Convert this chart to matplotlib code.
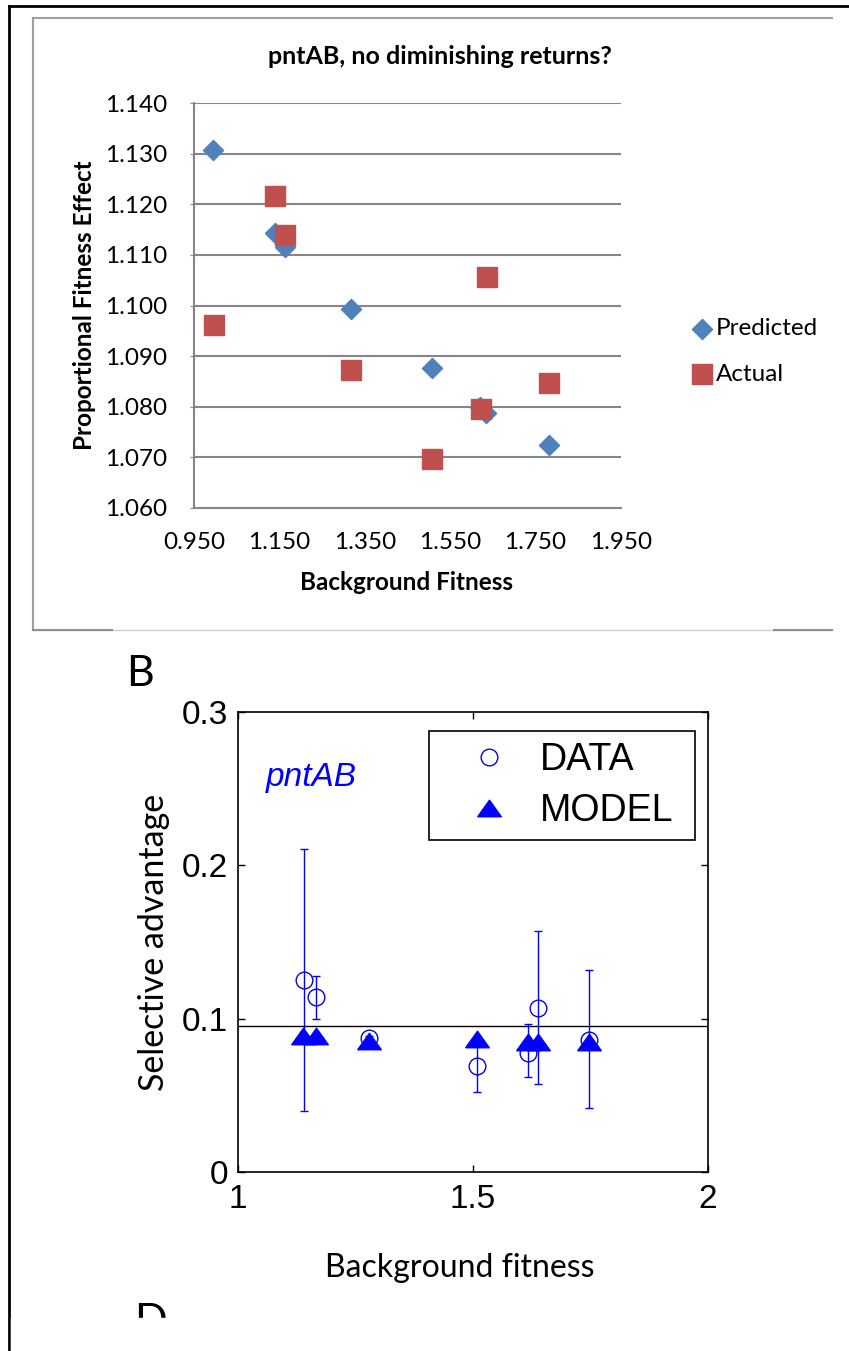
import matplotlib
matplotlib.use('Agg')
import matplotlib.pyplot as plt
from matplotlib.lines import Line2D

# Panel A data (Excel chart)
pred_x = [0.995, 1.140, 1.163, 1.317, 1.507, 1.620, 1.635, 1.782]
pred_y = [1.1307, 1.1144, 1.1116, 1.0994, 1.0876, 1.0800, 1.0787, 1.0724]
act_x = [0.997, 1.140, 1.163, 1.317, 1.507, 1.621, 1.636, 1.782]
act_y = [1.0961, 1.1217, 1.1140, 1.0872, 1.0697, 1.0796, 1.1056, 1.0847]
a_xticks = [0.950, 1.150, 1.350, 1.550, 1.750, 1.950]
a_yticks = [1.060, 1.070, 1.080, 1.090, 1.100, 1.110, 1.120, 1.130, 1.140]

# Panel B data
data_x = [1.141, 1.167, 1.279, 1.508, 1.618, 1.638, 1.748]
data_y = [0.1252, 0.1143, 0.0871, 0.0692, 0.0773, 0.1071, 0.0860]
err_lo = [0.0396, 0.0995, 0.0860, 0.0523, 0.0617, 0.0573, 0.0418]
err_hi = [0.2106, 0.1280, 0.0885, 0.0860, 0.0963, 0.1572, 0.1317]
model_x = [1.138, 1.167, 1.279, 1.508, 1.618, 1.638, 1.748]
model_y = [0.0889, 0.0884, 0.0856, 0.0867, 0.0851, 0.0846, 0.0846]
ref_line = 0.0952

W, H = 849, 1351
fig = plt.figure(figsize=(W / 100, H / 100), dpi=100)


def rect(l, t, r, b):
    return [l / W, 1 - b / H, (r - l) / W, (b - t) / H]


def fline(x0, y0, x1, y1, **kw):
    fig.add_artist(Line2D([x0 / W, x1 / W], [1 - y0 / H, 1 - y1 / H], **kw))


# outer frame and panel A box
fline(9, 6, 849, 6, color='black', lw=2)
fline(9, 6, 9, H, color='black', lw=2)
fline(33, 18, 832, 18, color='#a0a0a0', lw=1.5)
fline(33, 18, 33, 630, color='#a0a0a0', lw=1.5)
fline(33, 630, 832, 630, color='#d0d0d0', lw=1)
fline(33, 630, 112, 630, color='#909090', lw=1.5)
fline(774, 630, 832, 630, color='#909090', lw=1.5)

# ---- Panel A ----
fa = 'Lato'
ax1 = fig.add_axes(rect(194, 103, 621, 508))
ax1.scatter(pred_x, pred_y, marker='D', s=105, color='#4F81BD', zorder=3, label='Predicted')
ax1.scatter(act_x, act_y, marker='s', s=200, color='#C0504D', zorder=3, label='Actual')
ax1.set_xlim(0.95, 1.95)
ax1.set_ylim(1.06, 1.14)
ax1.set_xticks(a_xticks)
ax1.set_xticklabels(['%.3f' % v for v in a_xticks], fontfamily=fa, fontsize=17.5)
ax1.set_yticks(a_yticks)
ax1.set_yticklabels(['%.3f' % v for v in a_yticks], fontfamily=fa, fontsize=17.5)
ax1.yaxis.grid(True, color='#868686', lw=1.5)
ax1.set_axisbelow(True)
for s in ['top', 'right']:
    ax1.spines[s].set_visible(False)
ax1.spines['left'].set_color('#868686')
ax1.spines['left'].set_linewidth(1.5)
ax1.spines['bottom'].set_color('#868686')
ax1.spines['bottom'].set_linewidth(1.5)
ax1.tick_params(axis='y', length=3, color='#868686', pad=16)
ax1.tick_params(axis='x', length=0, pad=17)
ax1.set_xlabel('Background Fitness', fontfamily=fa, fontweight='bold', fontsize=17.5, va='center')
ax1.xaxis.set_label_coords(0.4965, -0.183)
ax1.set_ylabel('Proportional Fitness Effect', fontfamily=fa, fontweight='bold', fontsize=17.5, va='center')
ax1.yaxis.set_label_coords(-0.2576, 0.5)
fig.text(440 / W, 1 - 56 / H, 'pntAB, no diminishing returns?', ha='center', va='center',
         fontfamily=fa, fontweight='bold', fontsize=18)
ax1.legend(loc='center left', bbox_to_anchor=(690 / W, 1 - 351.5 / H), bbox_transform=fig.transFigure,
           frameon=False, prop={'family': fa, 'size': 17.5},
           handletextpad=0.05, labelspacing=1.0, handlelength=1.0, borderaxespad=0, borderpad=0)

# ---- Panel B ----
fb = 'Liberation Sans'
fig.text(140 / W, 1 - 674 / H, 'B', ha='center', va='center', fontfamily=fa, fontsize=31)
ax2 = fig.add_axes(rect(238, 712, 707.5, 1172))
ax2.axhline(ref_line, color='black', lw=1)
yerr = [[y - lo for y, lo in zip(data_y, err_lo)], [hi - y for y, hi in zip(data_y, err_hi)]]
ax2.errorbar(data_x, data_y, yerr=yerr, fmt='none', ecolor='blue', elinewidth=1, capsize=3.2, capthick=1)
h_data, = ax2.plot(data_x, data_y, 'o', mfc='none', mec='blue', ms=12, mew=1, ls='none', label='DATA')
tri = [(-1, -0.7), (1, -0.7), (0, 0.7), (-1, -0.7)]
h_model, = ax2.plot(model_x, model_y, marker=tri, color='blue', ms=17, ls='none', label='MODEL')
ax2.set_xlim(1, 2)
ax2.set_ylim(0, 0.3)
ax2.set_xticks([1, 1.5, 2])
ax2.set_xticklabels(['1', '1.5', '2'], fontfamily=fb, fontsize=24)
ax2.set_yticks([0, 0.1, 0.2, 0.3])
ax2.set_yticklabels(['0', '0.1', '0.2', '0.3'], fontfamily=fb, fontsize=24)
ax2.tick_params(direction='in', top=True, right=True, length=5, width=1)
ax2.tick_params(axis='y', pad=7)
ax2.tick_params(axis='x', pad=9)
for s in ax2.spines.values():
    s.set_linewidth(1.2)
ax2.text(266 / W, 1 - 777 / H, 'pntAB', transform=fig.transFigure, color='blue', style='italic',
         fontfamily=fb, fontsize=24, va='center', ha='left')
ax2.set_xlabel('Background fitness', fontfamily=fa, fontsize=23, va='center')
ax2.xaxis.set_label_coords(0.473, -0.208)
ax2.set_ylabel('Selective advantage', fontfamily=fa, fontsize=24.5, va='center')
ax2.yaxis.set_label_coords(-0.179, 0.5)
leg = ax2.legend([h_data, h_model], ['DATA', 'MODEL'], loc='upper left',
                 bbox_to_anchor=(0.407, 0.959, 0.566, 0), mode='expand', borderaxespad=0,
                 fancybox=False, edgecolor='black', framealpha=1, prop={'family': fb, 'size': 27},
                 handletextpad=0.05, labelspacing=0.4, borderpad=0.3, handlelength=2.6)
leg.get_frame().set_linewidth(1.2)

# cut-off panel label at the bottom
fig.text(150 / W, 1 - 1303 / H, 'D', ha='center', va='top', fontfamily=fa, fontsize=31)
fig.add_artist(plt.Rectangle((0.0135, 0), 0.5, 1 - 1318 / H, transform=fig.transFigure,
                             color='white', zorder=10))

fig.savefig('out.png', dpi=100)
